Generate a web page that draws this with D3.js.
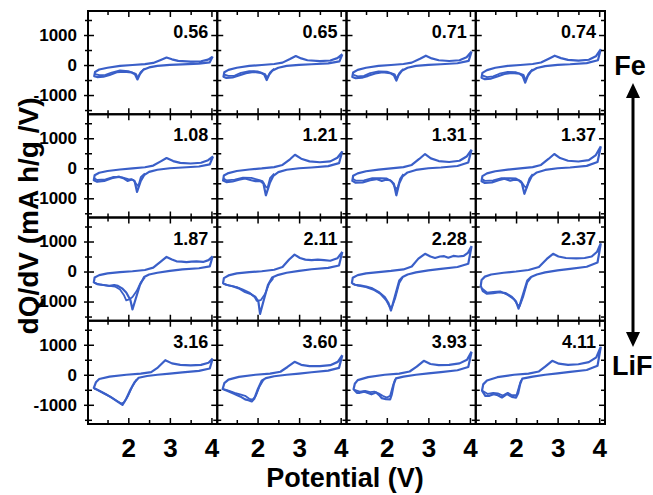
<!DOCTYPE html>
<html>

<head>
    <meta charset="utf-8" />
    <title>dQ/dV panels</title>
    <script src="https://d3js.org/d3.v7.min.js"></script>
</head>

<body>
    <style>
        body {
            margin: 0;
            background: #fff;
        }

        text {
            font-family: "Liberation Sans", Arial, sans-serif;
            font-weight: bold;
        }
    </style>

    <div class="chart"></div>

    <script>
        // panel labels, row by row
        var labels = ["0.56", "0.65", "0.71", "0.74", "1.08", "1.21", "1.31", "1.37",
            "1.87", "2.11", "2.28", "2.37", "3.16", "3.60", "3.93", "4.11"];

        // discharge branch [V, dQ/dV], from 4 V down
        var discharge = [
            [[4.03, 280], [3.96, 90], [3.7, 45], [3.3, 25], [3.0, 5], [2.7, -30], [2.5, -80], [2.36, -160], [2.28, -300], [2.22, -480], [2.16, -310], [2.08, -250], [1.9, -220], [1.72, -240], [1.55, -330], [1.4, -390], [1.25, -400], [1.18, -370]],
            [[4.04, 360], [3.97, 120], [3.7, 55], [3.3, 25], [3.0, 5], [2.7, -30], [2.5, -90], [2.36, -180], [2.28, -320], [2.22, -500], [2.16, -320], [2.08, -260], [1.9, -230], [1.72, -270], [1.55, -350], [1.4, -410], [1.25, -430], [1.18, -390]],
            [[4.04, 450], [3.97, 140], [3.7, 60], [3.3, 25], [3.0, 5], [2.7, -30], [2.5, -90], [2.36, -190], [2.28, -340], [2.23, -520], [2.17, -340], [2.08, -270], [1.9, -240], [1.72, -280], [1.55, -360], [1.4, -420], [1.25, -440], [1.17, -400]],
            [[4.04, 530], [3.97, 160], [3.7, 65], [3.3, 25], [3.0, 5], [2.7, -35], [2.5, -100], [2.36, -210], [2.28, -370], [2.22, -590], [2.16, -370], [2.08, -290], [1.9, -260], [1.72, -300], [1.55, -380], [1.4, -450], [1.25, -470], [1.17, -420]],
            [[4.04, 395], [3.96, 130], [3.7, 60], [3.3, 25], [3.0, 0], [2.7, -50], [2.5, -120], [2.38, -230], [2.3, -420], [2.21, -790], [2.15, -420], [2.08, -370], [1.98, -420], [1.88, -330], [1.78, -280], [1.6, -330], [1.42, -420], [1.25, -450], [1.17, -400]],
            [[4.04, 565], [3.96, 170], [3.7, 70], [3.3, 25], [3.0, 0], [2.7, -50], [2.5, -130], [2.38, -250], [2.3, -470], [2.2, -900], [2.14, -500], [2.06, -420], [1.95, -430], [1.85, -400], [1.7, -340], [1.55, -380], [1.4, -440], [1.25, -460], [1.17, -410]],
            [[4.04, 620], [3.96, 190], [3.7, 75], [3.3, 25], [3.0, 0], [2.7, -55], [2.5, -140], [2.38, -270], [2.3, -500], [2.23, -900], [2.17, -520], [2.08, -400], [1.98, -380], [1.88, -420], [1.75, -360], [1.6, -400], [1.42, -470], [1.25, -480], [1.17, -420]],
            [[4.04, 735], [3.96, 210], [3.7, 80], [3.3, 25], [3.0, 0], [2.7, -55], [2.5, -140], [2.38, -260], [2.3, -480], [2.2, -850], [2.14, -500], [2.06, -400], [1.96, -380], [1.86, -410], [1.72, -350], [1.58, -400], [1.42, -470], [1.25, -490], [1.17, -430]],
            [[4.03, 510], [3.96, 170], [3.7, 110], [3.3, 70], [3.0, 20], [2.7, -40], [2.5, -100], [2.38, -180], [2.28, -450], [2.18, -900], [2.1, -1265], [2.05, -950], [1.95, -700], [1.85, -560], [1.75, -480], [1.66, -450], [1.55, -480], [1.4, -450], [1.25, -420], [1.17, -360]],
            [[4.04, 655], [3.96, 200], [3.7, 120], [3.3, 75], [3.0, 20], [2.7, -40], [2.5, -110], [2.35, -200], [2.25, -450], [2.15, -950], [2.06, -1410], [2.02, -1000], [1.95, -850], [1.85, -760], [1.7, -680], [1.55, -560], [1.4, -490], [1.25, -440], [1.17, -390]],
            [[4.04, 850], [3.96, 260], [3.7, 150], [3.3, 90], [3.0, 40], [2.7, -30], [2.5, -100], [2.38, -180], [2.3, -300], [2.2, -800], [2.1, -1300], [2.04, -1050], [1.95, -850], [1.8, -680], [1.65, -560], [1.5, -500], [1.35, -460], [1.22, -440], [1.16, -380]],
            [[4.04, 940], [3.96, 300], [3.7, 160], [3.3, 90], [3.0, 40], [2.7, -30], [2.5, -100], [2.36, -180], [2.27, -300], [2.17, -750], [2.06, -1240], [2.0, -1000], [1.9, -850], [1.75, -720], [1.6, -690], [1.45, -720], [1.3, -740], [1.2, -650], [1.15, -480]],
            [[4.03, 540], [3.96, 210], [3.7, 130], [3.3, 80], [3.0, 40], [2.7, 0], [2.45, -40], [2.25, -100], [2.15, -250], [2.05, -500], [1.95, -800], [1.86, -1005], [1.75, -900], [1.6, -760], [1.45, -640], [1.3, -530], [1.17, -440]],
            [[4.04, 655], [3.96, 230], [3.7, 140], [3.3, 85], [3.0, 40], [2.7, 0], [2.4, -50], [2.2, -110], [2.1, -200], [2.0, -500], [1.92, -800], [1.86, -890], [1.78, -850], [1.7, -820], [1.58, -720], [1.42, -620], [1.28, -540], [1.16, -475]],
            [[4.04, 770], [3.96, 260], [3.7, 150], [3.3, 90], [3.0, 45], [2.7, 0], [2.4, -60], [2.22, -120], [2.17, -300], [2.12, -650], [2.08, -820], [1.98, -815], [1.88, -780], [1.83, -700], [1.74, -590], [1.63, -650], [1.53, -600], [1.45, -560], [1.35, -600], [1.28, -600], [1.2, -480]],
            [[4.04, 940], [3.96, 300], [3.7, 160], [3.3, 95], [3.0, 45], [2.7, 0], [2.4, -60], [2.15, -130], [2.1, -300], [2.05, -620], [2.0, -760], [1.9, -735], [1.78, -645], [1.66, -757], [1.56, -680], [1.46, -645], [1.36, -700], [1.26, -700], [1.18, -530]]
        ];

        // charge branch [V, dQ/dV], from the low end back up to 4 V
        var charge = [
            [[1.18, -370], [1.2, -230], [1.3, -150], [1.5, -90], [1.8, -30], [2.1, 0], [2.4, 30], [2.6, 70], [2.78, 170], [2.92, 250], [3.05, 190], [3.2, 140], [3.5, 115], [3.75, 125], [3.92, 180], [4.03, 280]],
            [[1.18, -390], [1.2, -240], [1.3, -160], [1.5, -90], [1.8, -30], [2.1, 0], [2.4, 35], [2.6, 80], [2.78, 200], [2.92, 300], [3.05, 220], [3.2, 160], [3.5, 130], [3.75, 150], [3.92, 230], [4.04, 360]],
            [[1.17, -400], [1.19, -250], [1.3, -160], [1.5, -90], [1.8, -30], [2.1, 0], [2.4, 35], [2.6, 80], [2.8, 210], [2.94, 310], [3.08, 220], [3.25, 160], [3.5, 135], [3.75, 160], [3.92, 260], [4.04, 450]],
            [[1.17, -420], [1.19, -260], [1.3, -170], [1.5, -90], [1.8, -30], [2.1, 0], [2.4, 35], [2.6, 85], [2.8, 220], [2.93, 310], [3.08, 230], [3.25, 170], [3.5, 145], [3.75, 175], [3.92, 290], [4.04, 530]],
            [[1.17, -400], [1.19, -230], [1.3, -150], [1.5, -90], [1.8, -40], [2.1, -5], [2.4, 35], [2.6, 90], [2.78, 230], [2.92, 340], [3.08, 240], [3.25, 180], [3.5, 160], [3.75, 185], [3.92, 270], [4.04, 395]],
            [[1.17, -410], [1.19, -240], [1.3, -160], [1.5, -90], [1.8, -40], [2.1, -5], [2.4, 40], [2.6, 110], [2.78, 300], [2.9, 450], [3.05, 320], [3.25, 230], [3.5, 200], [3.75, 230], [3.92, 350], [4.04, 565]],
            [[1.17, -420], [1.19, -250], [1.3, -170], [1.5, -100], [1.8, -45], [2.1, -5], [2.4, 40], [2.6, 110], [2.78, 310], [2.92, 475], [3.06, 330], [3.25, 240], [3.5, 210], [3.75, 250], [3.92, 390], [4.04, 620]],
            [[1.17, -430], [1.19, -260], [1.3, -170], [1.5, -100], [1.8, -45], [2.1, -5], [2.4, 40], [2.6, 110], [2.78, 310], [2.92, 475], [3.06, 340], [3.25, 250], [3.5, 225], [3.75, 270], [3.92, 440], [4.04, 735]],
            [[1.17, -360], [1.19, -200], [1.3, -120], [1.5, -60], [1.8, -20], [2.1, 10], [2.4, 50], [2.6, 130], [2.78, 330], [2.92, 485], [3.05, 400], [3.16, 340], [3.28, 330], [3.4, 315], [3.52, 330], [3.64, 340], [3.8, 320], [3.93, 380], [4.03, 510]],
            [[1.17, -390], [1.19, -220], [1.3, -130], [1.5, -60], [1.8, -20], [2.1, 10], [2.4, 60], [2.6, 150], [2.76, 400], [2.89, 565], [3.02, 450], [3.15, 395], [3.3, 380], [3.45, 395], [3.6, 380], [3.75, 360], [3.92, 440], [4.04, 655]],
            [[1.16, -380], [1.18, -210], [1.3, -120], [1.5, -60], [1.8, -20], [2.1, 20], [2.4, 70], [2.6, 170], [2.76, 430], [2.92, 590], [3.05, 500], [3.16, 450], [3.28, 500], [3.38, 510], [3.48, 460], [3.6, 520], [3.72, 500], [3.85, 520], [3.95, 620], [4.04, 850]],
            [[1.15, -480], [1.17, -280], [1.25, -170], [1.4, -100], [1.7, -40], [2.0, 0], [2.3, 50], [2.55, 150], [2.74, 420], [2.89, 590], [3.02, 500], [3.2, 450], [3.45, 440], [3.65, 450], [3.82, 500], [3.95, 660], [4.04, 940]],
            [[1.17, -440], [1.22, -250], [1.3, -140], [1.55, -60], [1.95, 0], [2.3, 40], [2.55, 90], [2.71, 240], [2.89, 485], [3.05, 380], [3.25, 330], [3.5, 316], [3.75, 330], [3.93, 400], [4.03, 540]],
            [[1.16, -475], [1.2, -280], [1.3, -160], [1.55, -70], [1.95, 0], [2.3, 40], [2.55, 100], [2.72, 260], [2.89, 430], [3.05, 330], [3.25, 290], [3.5, 290], [3.75, 320], [3.93, 430], [4.04, 655]],
            [[1.2, -480], [1.23, -300], [1.3, -180], [1.55, -80], [1.95, 0], [2.3, 40], [2.55, 110], [2.72, 270], [2.89, 465], [3.05, 360], [3.25, 320], [3.5, 330], [3.75, 380], [3.93, 500], [4.04, 770]],
            [[1.18, -530], [1.21, -320], [1.3, -190], [1.55, -80], [1.95, 0], [2.3, 40], [2.55, 110], [2.7, 270], [2.87, 465], [3.03, 370], [3.25, 330], [3.5, 350], [3.75, 420], [3.93, 580], [4.04, 940]]
        ];

        // second cycle, discharge side below ~2.4 V
        var discharge2 = [
            [[2.4, -110], [2.3, -230], [2.23, -420], [2.18, -290], [2.0, -200], [1.8, -180], [1.6, -250], [1.45, -330], [1.3, -340], [1.2, -300]],
            [[2.4, -120], [2.3, -250], [2.23, -430], [2.18, -300], [2.0, -210], [1.8, -200], [1.6, -260], [1.45, -350], [1.3, -360], [1.2, -320]],
            [[2.4, -130], [2.3, -270], [2.24, -450], [2.19, -310], [2.0, -220], [1.8, -210], [1.6, -270], [1.45, -360], [1.3, -380], [1.2, -330]],
            [[2.4, -140], [2.3, -290], [2.23, -500], [2.18, -330], [2.0, -240], [1.8, -230], [1.6, -290], [1.45, -380], [1.3, -400], [1.2, -350]],
            [[2.4, -170], [2.3, -300], [2.24, -600], [2.19, -520], [2.12, -390], [2.0, -360], [1.85, -300], [1.65, -290], [1.45, -370], [1.25, -390], [1.18, -330]],
            [[2.4, -180], [2.3, -330], [2.24, -650], [2.2, -620], [2.12, -430], [2.0, -380], [1.85, -320], [1.65, -310], [1.45, -380], [1.25, -400], [1.18, -340]],
            [[2.4, -190], [2.32, -350], [2.25, -700], [2.2, -640], [2.12, -440], [2.0, -340], [1.85, -330], [1.65, -330], [1.45, -400], [1.25, -410], [1.18, -350]],
            [[2.4, -190], [2.32, -340], [2.25, -650], [2.2, -600], [2.12, -430], [2.0, -340], [1.85, -330], [1.65, -330], [1.45, -400], [1.25, -420], [1.18, -360]],
            [[2.4, -200], [2.3, -360], [2.2, -650], [2.1, -850], [2.02, -930], [1.95, -960], [1.9, -800], [1.8, -600], [1.68, -500], [1.5, -470], [1.3, -430], [1.18, -380]],
            [[2.38, -220], [2.28, -400], [2.18, -750], [2.08, -950], [1.98, -980], [1.93, -850], [1.8, -700], [1.65, -600], [1.5, -520], [1.3, -460], [1.18, -410]],
            [[2.38, -200], [2.3, -380], [2.2, -900], [2.12, -1200], [2.06, -1150], [1.98, -950], [1.85, -750], [1.7, -620], [1.5, -520], [1.3, -470], [1.17, -400]],
            [[2.36, -200], [2.27, -360], [2.17, -850], [2.09, -1150], [2.03, -1100], [1.95, -920], [1.8, -780], [1.62, -660], [1.45, -680], [1.3, -700], [1.18, -560]],
            [[2.2, -160], [2.1, -380], [2.0, -680], [1.9, -920], [1.83, -960], [1.7, -850], [1.55, -720], [1.4, -610], [1.25, -500], [1.18, -460]],
            [[2.15, -150], [2.05, -380], [1.96, -700], [1.88, -830], [1.8, -800], [1.7, -700], [1.6, -660], [1.45, -600], [1.3, -530], [1.18, -480]],
            [[2.2, -150], [2.14, -400], [2.08, -700], [2.0, -760], [1.9, -700], [1.8, -620], [1.7, -560], [1.6, -580], [1.48, -540], [1.35, -560], [1.22, -500]],
            [[2.12, -180], [2.06, -450], [2.01, -680], [1.9, -680], [1.8, -600], [1.68, -690], [1.56, -620], [1.45, -600], [1.32, -640], [1.2, -540]]
        ];

        var xMajor = [2, 3, 4];
        var xMinor = [1.5, 2.5, 3.5];
        var yMajor = [-1000, 0, 1000];
        var yMinor = [-1500, -500, 500, 1500];

        const w = 653;
        const h = 495;
        const gLeft = 88, gRight = 605, gTop = 11, gBottom = 424;
        const pw = (gRight - gLeft) / 4;
        const ph = (gBottom - gTop) / 4;
        const blue = "#3a5fc8";

        let svg = d3.select('.chart')
            .append('svg')
            .attr('width', w)
            .attr('height', h);

        let x = d3.scaleLinear().domain([1.03, 4.14]).range([0, pw]);
        let y = d3.scaleLinear().domain([-1640, 1800]).range([ph, 0]);

        let line = d3.line()
            .x(d => x(d[0]))
            .y(d => y(d[1]));

        // small helper for tick marks, no labels
        function ticks(g, axis, vals, size, tr) {
            let a = g.append('g')
                .attr('transform', tr || null)
                .call(axis.tickValues(vals).tickSize(size).tickFormat(''));
            a.select('.domain').remove();
            a.selectAll('line').attr('stroke', '#000').attr('stroke-width', 1.5);
        }

        labels.forEach((lab, i) => {
            const col = i % 4;
            const row = Math.floor(i / 4);
            let g = svg.append('g')
                .attr('transform', `translate(${gLeft + col * pw},${gTop + row * ph})`);

            // curves
            g.append('path')
                .datum(discharge[i].concat(charge[i]))
                .attr('d', line)
                .attr('fill', 'none')
                .attr('stroke', blue)
                .attr('stroke-width', 2.2)
                .attr('stroke-linejoin', 'round');

            g.append('path')
                .datum(discharge2[i])
                .attr('d', line)
                .attr('fill', 'none')
                .attr('stroke', blue)
                .attr('stroke-width', 1.8)
                .attr('stroke-linejoin', 'round');

            // inward ticks on all four sides
            ticks(g, d3.axisLeft(y), yMajor, -6);
            ticks(g, d3.axisLeft(y), yMinor, -4);
            ticks(g, d3.axisRight(y), yMajor, -6, `translate(${pw},0)`);
            ticks(g, d3.axisRight(y), yMinor, -4, `translate(${pw},0)`);
            ticks(g, d3.axisTop(x), xMajor, -6);
            ticks(g, d3.axisTop(x), xMinor, -4);
            ticks(g, d3.axisBottom(x), xMajor, -6, `translate(0,${ph})`);
            ticks(g, d3.axisBottom(x), xMinor, -4, `translate(0,${ph})`);

            // frame
            g.append('rect')
                .attr('width', pw)
                .attr('height', ph)
                .attr('fill', 'none')
                .attr('stroke', '#000')
                .attr('stroke-width', 2);

            g.append('text')
                .attr('x', pw - 9)
                .attr('y', 27)
                .attr('text-anchor', 'end')
                .attr('font-size', 18)
                .text(lab);

            if (col === 0) {
                ticks(g, d3.axisLeft(y), yMinor, 3);
                let ya = g.append('g')
                    .call(d3.axisLeft(y).tickValues(yMajor).tickSize(4).tickPadding(7).tickFormat(d => String(d)));
                ya.select('.domain').remove();
                ya.selectAll('line').attr('stroke', '#000').attr('stroke-width', 1.5);
                ya.selectAll('text')
                    .attr('font-size', 17)
                    .attr('font-family', '"Liberation Sans", Arial, sans-serif')
                    .attr('font-weight', 'bold')
                    .attr('fill', '#000');
            }

            if (row === 3) {
                let xa = g.append('g')
                    .attr('transform', `translate(0,${ph})`)
                    .call(d3.axisBottom(x).tickValues(xMajor).tickSize(0).tickPadding(15).tickFormat(d => String(d)));
                xa.select('.domain').remove();
                xa.selectAll('text')
                    .attr('font-size', 26)
                    .attr('font-family', '"Liberation Sans", Arial, sans-serif')
                    .attr('font-weight', 'bold')
                    .attr('fill', '#000');
            }
        });

        // axis titles
        svg.append('text')
            .attr('transform', 'translate(38,216) rotate(-90)')
            .attr('text-anchor', 'middle')
            .attr('font-size', 28)
            .text('dQ/dV (mA h/g /V)');

        svg.append('text')
            .attr('x', 345)
            .attr('y', 487)
            .attr('text-anchor', 'middle')
            .attr('font-size', 27)
            .text('Potential (V)');

        // Fe <-> LiF arrow on the right
        const ax = 633;
        svg.append('line')
            .attr('x1', ax).attr('x2', ax)
            .attr('y1', 95).attr('y2', 336)
            .attr('stroke', '#000')
            .attr('stroke-width', 3);
        svg.append('path')
            .attr('d', `M${ax},83 L${ax - 7},98 L${ax + 7},98 Z`)
            .attr('fill', '#000');
        svg.append('path')
            .attr('d', `M${ax},347 L${ax - 7},332 L${ax + 7},332 Z`)
            .attr('fill', '#000');

        svg.append('text')
            .attr('x', 630)
            .attr('y', 75)
            .attr('text-anchor', 'middle')
            .attr('font-size', 27)
            .text('Fe');

        svg.append('text')
            .attr('x', 612)
            .attr('y', 375)
            .attr('font-size', 27)
            .text('LiF');
    </script>

</body>

</html>
